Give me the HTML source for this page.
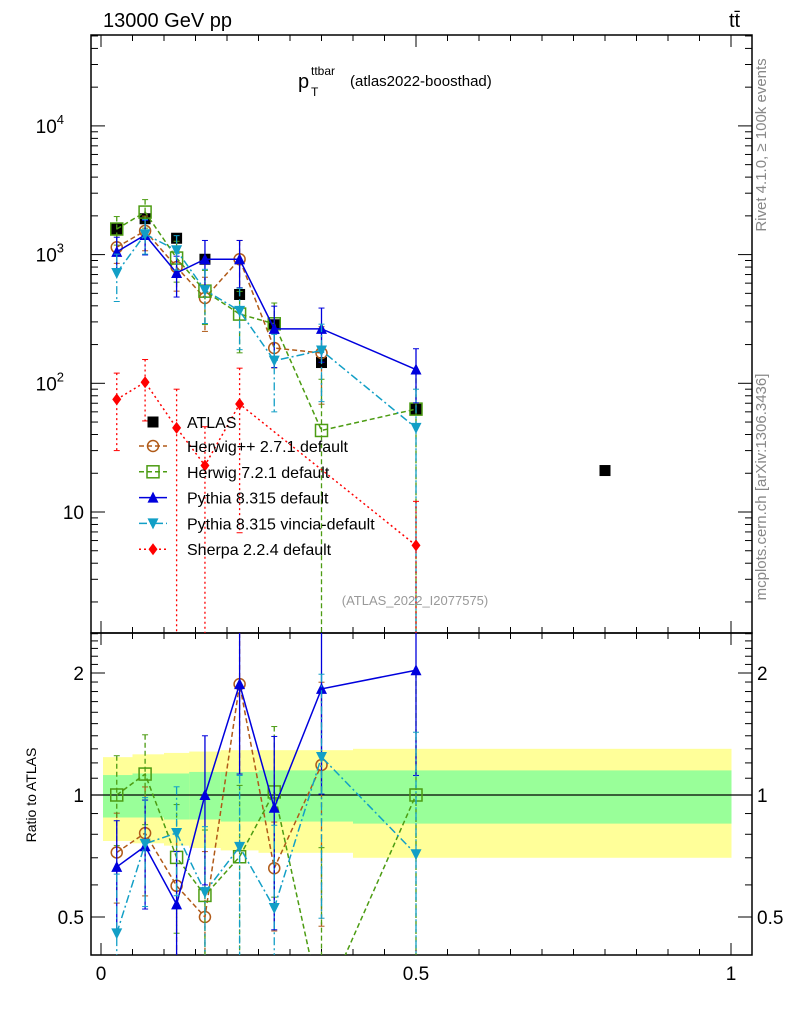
<!DOCTYPE html>
<html><head><meta charset="utf-8"><style>
html,body{margin:0;padding:0;background:#fff;width:786px;height:1024px;overflow:hidden}
svg{font-family:"Liberation Sans",sans-serif;display:block}
</style></head><body>
<svg id="chart" width="786" height="1024" viewBox="0 0 786 1024" xmlns="http://www.w3.org/2000/svg">
<g id="bands"></g>
<g id="axes"></g>
<g id="series"></g>
<text x="103" y="27" font-size="20">13000 GeV pp</text>
<text x="729" y="27" font-size="20">tt̄</text>
<g>
<text x="298" y="88" font-size="20">p</text>
<text x="311" y="75" font-size="12">ttbar</text>
<text x="311" y="96" font-size="12">T</text>
<text x="350" y="86" font-size="15">(atlas2022-boosthad)</text>
</g>
<text transform="translate(766,145) rotate(-90)" text-anchor="middle" font-size="15" fill="#888">Rivet 4.1.0, ≥ 100k events</text>
<text transform="translate(766,487) rotate(-90)" text-anchor="middle" font-size="15" fill="#888">mcplots.cern.ch [arXiv:1306.3436]</text>
<text x="415" y="605" text-anchor="middle" font-size="13" fill="#999">(ATLAS_2022_I2077575)</text>
<text transform="translate(36,795) rotate(-90)" text-anchor="middle" font-size="14">Ratio to ATLAS</text>
<g id="legend"></g>
</svg>
<script>
const binEdges=[0,0.05,0.1,0.14,0.19,0.25,0.3,0.4,0.6,1.0];
const xs=[0.025,0.07,0.12,0.165,0.22,0.275,0.35,0.5,0.8];
const atlas=[1580,1900,1340,920,490,285,145,63,21];
const yellowHi=[1.24,1.26,1.27,1.28,1.29,1.29,1.29,1.30,1.30];
const yellowLo=[0.77,0.76,0.75,0.74,0.73,0.72,0.72,0.70,0.70];
const greenHi=[1.12,1.13,1.13,1.14,1.14,1.15,1.15,1.15,1.15];
const greenLo=[0.88,0.88,0.87,0.87,0.86,0.86,0.86,0.85,0.85];
const herwigpp=[1140,1530,800,460,920,188,172,null,null];
const herwigppErr=[0.25,0.3,0.35,0.45,0.4,0.3,0.6,0,0];
const herwig7=[1580,2140,940,520,345,290,43,63,null];
const herwig7Err=[0.25,0.25,0.35,0.45,0.5,0.45,1.5,1.0,0];
const pythia=[1050,1420,720,920,920,265,265,128,null];
const pythiaErr=[0.3,0.3,0.35,0.4,0.4,0.5,0.45,0.45,0];
const vincia=[720,1440,1080,530,365,150,180,45,null];
const vinciaErr=[0.4,0.3,0.3,0.45,0.5,0.6,0.6,1.0,0];
const sherpa=[75,102,45,23,69,null,null,5.5,null];
const sherpaErr=[0.6,0.5,1.0,1.0,0.9,0,0,1.2,0];

const NS='http://www.w3.org/2000/svg';
const X0=91,X1=752,MT=35,MB=633,RB=955;
function sx(v){return 101+630*v;}
function sy(v){return 512-128.7*(Math.log10(v)-1);}
function ry(r){return 795-122*Math.log2(r);}
function mk(tag,at,parent){const e=document.createElementNS(NS,tag);for(const k in at)e.setAttribute(k,at[k]);parent.appendChild(e);return e;}
const axes=document.getElementById('axes'),bands=document.getElementById('bands'),ser=document.getElementById('series'),leg=document.getElementById('legend');
for(let i=0;i<xs.length;i++){
 const a=sx(binEdges[i])+(i==0?2:0),b=sx(binEdges[i+1])+0.5;
 const y1=mk('rect',{x:a,y:ry(yellowHi[i]),width:b-a,height:ry(yellowLo[i])-ry(yellowHi[i]),fill:'#ffff99'},bands);
 
 
 const g1=mk('rect',{x:a,y:ry(greenHi[i]),width:b-a,height:ry(greenLo[i])-ry(greenHi[i]),fill:'#99ff99'},bands);
 
 
}
mk('line',{x1:X0,x2:X1,y1:ry(1),y2:ry(1),stroke:'#000','stroke-width':1.3},axes);
mk('rect',{x:X0,y:MT,width:X1-X0,height:MB-MT,fill:'none',stroke:'#000','stroke-width':1.5},axes);
mk('rect',{x:X0,y:MB,width:X1-X0,height:RB-MB,fill:'none',stroke:'#000','stroke-width':1.5},axes);
for(let i=0;i<=20;i++){const v=i*0.05,x=sx(v);const L=(i%10==0)?12:6;
 for(const [yb,dir] of [[MT,1],[MB,-1],[MB,1],[RB,-1]]) mk('line',{x1:x,x2:x,y1:yb,y2:yb+dir*L,stroke:'#000'},axes);}
[['0',0],['0.5',0.5],['1',1]].forEach(([t,v])=>{const e=mk('text',{x:sx(v),y:980,'text-anchor':'middle','font-size':19},axes);e.textContent=t;});
for(let d=0;d<=5;d++)for(let m=1;m<=9;m++){const v=m*Math.pow(10,d);const y=sy(v);if(y<MT||y>MB)continue;const L=m==1?14:7;
 mk('line',{x1:X0,x2:X0+L,y1:y,y2:y,stroke:'#000'},axes);mk('line',{x1:X1,x2:X1-L,y1:y,y2:y,stroke:'#000'},axes);}
[[10,'10',''],[100,'10','2'],[1000,'10','3'],[10000,'10','4']].forEach(([v,b,p])=>{const e=mk('text',{x:p?66:84,y:sy(v)+7,'text-anchor':'end','font-size':19},axes);e.textContent=b;if(p){e.setAttribute('x',64);const t=mk('tspan',{'font-size':13,dy:-9},e);t.textContent=p;}});
[0.4,0.5,0.6,0.7,0.8,0.9,1,1.1,1.2,1.3,1.4,1.5,1.6,1.7,1.8,1.9,2,2.1,2.2,2.3,2.4,2.5].forEach(r=>{const y=ry(r);if(y<MB||y>RB)return;const L=(r==0.5||r==1||r==2)?14:7;
 mk('line',{x1:X0,x2:X0+L,y1:y,y2:y,stroke:'#000'},axes);mk('line',{x1:X1,x2:X1-L,y1:y,y2:y,stroke:'#000'},axes);});
[[2,'2'],[1,'1'],[0.5,'0.5']].forEach(([r,t])=>{for(const [x,a] of [[84,'end'],[757,'start']]){const e=mk('text',{x:x,y:ry(r)+7,'text-anchor':a,'font-size':19},axes);e.textContent=t;}});
const defs=mk('defs',{},document.getElementById('chart'));
const c1=mk('clipPath',{id:'cm'},defs);mk('rect',{x:X0,y:MT,width:X1-X0,height:MB-MT},c1);
const c2=mk('clipPath',{id:'cr'},defs);mk('rect',{x:X0,y:MB,width:X1-X0,height:RB-MB},c2);
const gm=mk('g',{'clip-path':'url(#cm)'},ser),gr=mk('g',{'clip-path':'url(#cr)'},ser);
function marker(p,kind,x,y,col){
 if(kind=='circle')mk('circle',{cx:x,cy:y,r:5.5,fill:'none',stroke:col,'stroke-width':1.5},p);
 else if(kind=='square')mk('rect',{x:x-6,y:y-6,width:12,height:12,fill:'none',stroke:col,'stroke-width':1.5},p);
 else if(kind=='fsquare')mk('rect',{x:x-5.5,y:y-5.5,width:11,height:11,fill:col},p);
 else if(kind=='up')mk('path',{d:`M${x},${y-6}L${x+5.5},${y+5}L${x-5.5},${y+5}Z`,fill:col},p);
 else if(kind=='down')mk('path',{d:`M${x},${y+6}L${x+5.5},${y-5}L${x-5.5},${y-5}Z`,fill:col},p);
 else if(kind=='diamond')mk('path',{d:`M${x},${y-6}L${x+4.5},${y}L${x},${y+6}L${x-4.5},${y}Z`,fill:col},p);
}
const models=[
 {name:'herwigpp',label:'Herwig++ 2.7.1 default',v:herwigpp,e:herwigppErr,col:'#b05a18',dash:'5,3',kind:'circle'},
 {name:'herwig7',label:'Herwig 7.2.1 default',v:herwig7,e:herwig7Err,col:'#4c9c12',dash:'5,3',kind:'square'},
 {name:'pythia',label:'Pythia 8.315 default',v:pythia,e:pythiaErr,col:'#0000dd',dash:'',kind:'up'},
 {name:'vincia',label:'Pythia 8.315 vincia-default',v:vincia,e:vinciaErr,col:'#129fc6',dash:'8,3,2,3',kind:'down'},
 {name:'sherpa',label:'Sherpa 2.2.4 default',v:sherpa,e:sherpaErr,col:'#ff0000',dash:'2,3',kind:'diamond'}];
const ga=mk('g',{},gm);
atlas.forEach((v,i)=>marker(ga,'fsquare',sx(xs[i]),sy(v),'#000'));
models.forEach(m=>{
 for(const [p,f] of [[gm,(v,i)=>sy(v)],[gr,(v,i)=>ry(v/atlas[i])]]){
  const g=mk('g',{},p);
  
  
  const pts=[];m.v.forEach((v,i)=>{if(v!=null)pts.push([sx(xs[i]),f(v,i),i,v]);});
  mk('polyline',{points:pts.map(q=>q[0]+','+q[1]).join(' '),fill:'none',stroke:m.col,'stroke-width':1.5,'stroke-dasharray':m.dash},g);
  pts.forEach(([x,y,i,v])=>{const e=m.e[i];const hi=f(v*(1+e),i),lo=f(Math.max(v*(1-e),1e-3),i);
   mk('line',{x1:x,x2:x,y1:hi,y2:lo,stroke:m.col,'stroke-width':1.3,'stroke-dasharray':m.dash},g);
   mk('line',{x1:x-3,x2:x+3,y1:hi,y2:hi,stroke:m.col},g);mk('line',{x1:x-3,x2:x+3,y1:lo,y2:lo,stroke:m.col},g);
   marker(g,m.kind,x,y,m.col);});
 }
});
const le=mk('g',{},leg);
marker(le,'fsquare',153,422,'#000');const t0=mk('text',{x:187,y:428,'font-size':16},le);t0.textContent='ATLAS';
models.forEach((m,k)=>{const y=446+k*25.8;const g=mk('g',{},leg);
 
 
 mk('line',{x1:139,x2:167,y1:y,y2:y,stroke:m.col,'stroke-width':1.5,'stroke-dasharray':m.dash},g);
 marker(g,m.kind,153,y,m.col);const t=mk('text',{x:187,y:y+6,'font-size':16},g);t.textContent=m.label;});
</script>
</body></html>
